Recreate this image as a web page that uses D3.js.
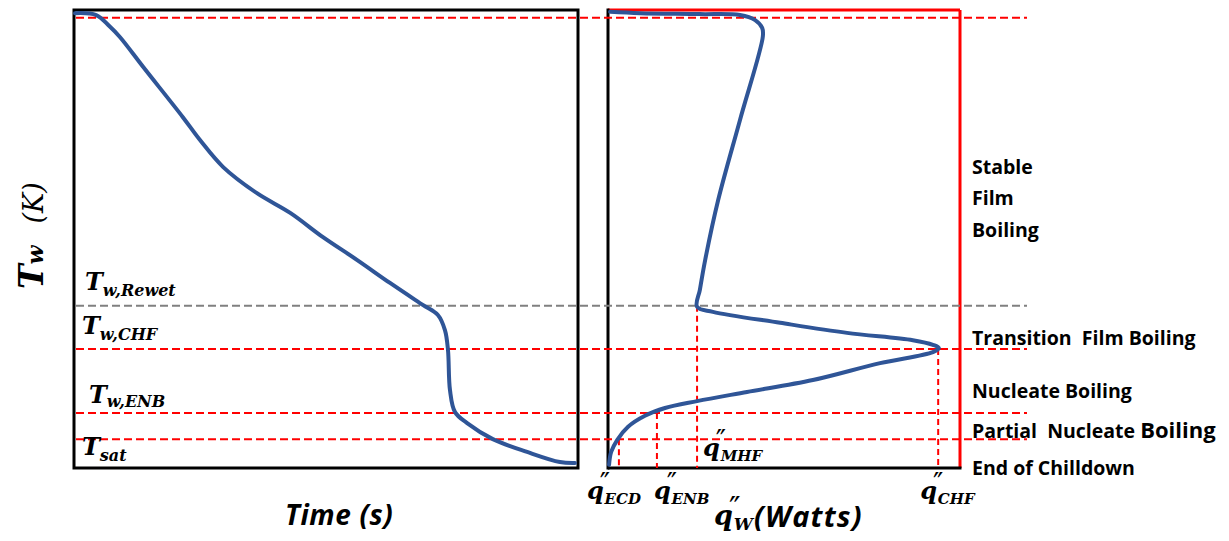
<!DOCTYPE html>
<html><head><meta charset="utf-8">
<script src="https://cdn.jsdelivr.net/npm/d3@7"></script>
<style>body{margin:0;background:#fff}svg{display:block}</style>
</head><body><svg id="c" width="1229" height="541"></svg>
<script>
// ---- data (normalized units) ----
// wall temperature vs time: [time, Tw]
const timeValues = [0.2,4.4,7.0,9.1,13.7,21.6,25.0,29.6,36.3,42.9,49.4,56.2,62.7,69.2,72.2,73.6,74.2,74.6,75.6,78.0,83.1,89.9,96.4,99.4];
const tempVsTime = [99.3,98.9,96.5,94.1,87.6,76.6,71.6,65.7,60.0,55.7,50.4,45.4,40.4,35.6,33.4,30.1,25.8,17.0,12.2,9.8,6.3,3.5,1.3,1.1];
// boiling curve: [heat flux, Tw]
const fluxValues = [0.6,9.1,26.1,37.5,41.8,43.8,44.0,37.5,31.3,27.6,26.1,25.3,29.8,48.9,67.9,86.6,92.3,94.0,92.3,77.3,58.2,39.5,25.3,16.2,10.5,5.7,2.6,0.9,0.3];
const tempVsFlux = [99.6,99.3,99.1,98.9,97.8,96.1,94.3,76.0,58.5,45.4,38.9,35.2,34.1,31.7,29.5,27.9,26.9,26.2,25.3,22.9,19.2,16.6,14.6,13.1,11.4,9.0,6.1,3.5,0.7];
// characteristic temperatures
const levelNames = ["top","Rewet","CHF","ENB","sat"];
const levelValues = [98.3, 35.4, 26.0, 12.0, 6.3];
const levelColors = ["#ff0000","#808080","#ff0000","#ff0000","#ff0000"];
// characteristic heat fluxes
const fluxMarkNames = ["ECD","ENB","MHF","CHF"];
const fluxMarkValues = [3.1, 13.9, 25.3, 93.8];
const fluxMarkTop = [6.3, 12.0, 35.4, 26.0];
// regime labels
const regimeTexts = ["Stable","Film","Boiling","Transition\u00a0\u00a0Film Boiling","Nucleate Boiling","Partial\u00a0\u00a0Nucleate ","End of Chilldown"];
const regimeLevels = [64.3, 57.4, 50.4, 26.9, 15.3, 6.5, -1.5];

// ---- layout ----
const svg = d3.select("#c");
const yT = d3.scaleLinear().domain([0,100]).range([468,10]);
const xTime = d3.scaleLinear().domain([0,100]).range([74,578]);
const xQ = d3.scaleLinear().domain([0,100]).range([608,960]);
const blue = "#2f5597";
const serif = "'DejaVu Serif', serif";
const sans = "'Open Sans', sans-serif";

// frames
svg.append("rect").attr("x",xTime(0)).attr("y",yT(100)).attr("width",xTime(100)-xTime(0)).attr("height",yT(0)-yT(100))
  .attr("fill","none").attr("stroke","#000").attr("stroke-width",3);
svg.append("line").attr("x1",xQ(0)).attr("x2",xQ(100)).attr("y1",yT(100)).attr("y2",yT(100)).attr("stroke","#ff0000").attr("stroke-width",3);
svg.append("line").attr("x1",xQ(100)).attr("x2",xQ(100)).attr("y1",yT(100)).attr("y2",yT(0)).attr("stroke","#ff0000").attr("stroke-width",3);
svg.append("line").attr("x1",xQ(0)).attr("x2",xQ(0)).attr("y1",yT(100)-1.5).attr("y2",yT(0)+1.5).attr("stroke","#000").attr("stroke-width",3);
svg.append("line").attr("x1",xQ(0)).attr("x2",xQ(100)+1.5).attr("y1",yT(0)).attr("y2",yT(0)).attr("stroke","#000").attr("stroke-width",3);

// horizontal dashed level lines
svg.selectAll("line.level").data(levelValues).join("line").attr("class","level")
  .attr("x1",xTime(0)+2).attr("x2",1027)
  .attr("y1",d=>yT(d)).attr("y2",d=>yT(d))
  .attr("stroke",(d,i)=>levelColors[i]).attr("stroke-width",2).attr("stroke-dasharray","8,4");

// vertical dashed flux lines
svg.selectAll("line.flux").data(fluxMarkValues).join("line").attr("class","flux")
  .attr("x1",d=>xQ(d)).attr("x2",d=>xQ(d))
  .attr("y1",(d,i)=>yT(fluxMarkTop[i])).attr("y2",yT(0))
  .attr("stroke","#ff0000").attr("stroke-width",2).attr("stroke-dasharray","6,4");

// curves
const leftData = timeValues.map((t,i)=>[t,tempVsTime[i]]);
const rightData = fluxValues.map((q,i)=>[q,tempVsFlux[i]]);
svg.append("path").datum(leftData)
  .attr("d",d3.line().x(d=>xTime(d[0])).y(d=>yT(d[1])).curve(d3.curveCatmullRom.alpha(0.5)))
  .attr("fill","none").attr("stroke",blue).attr("stroke-width",4).attr("stroke-linecap","round");
svg.append("path").datum(rightData)
  .attr("d",d3.line().x(d=>xQ(d[0])).y(d=>yT(d[1])).curve(d3.curveCatmullRom.alpha(0.5)))
  .attr("fill","none").attr("stroke",blue).attr("stroke-width",4).attr("stroke-linecap","round");

// temperature labels in the left panel
function tLabel(x, y, sub, subDy){
  const t = svg.append("text").attr("x",x).attr("y",y).attr("font-family",serif).attr("font-style","italic").attr("font-weight","bold").attr("fill","#000");
  t.append("tspan").attr("font-size",24).text("T");
  t.append("tspan").attr("font-size",16).attr("dy",subDy).text(sub);
}
tLabel(85, yT(levelValues[1])-16, "w,Rewet", 6);
tLabel(82, yT(levelValues[2])-15, "w,CHF", 6);
tLabel(89, yT(levelValues[3])-10, "w,ENB", 4);
tLabel(82, yT(levelValues[4])+16, "sat", 6);

// flux labels: q with double prime and subscript, one text element
function qLabel(x, y, sub, qSize, subSize){
  const t = svg.append("text").attr("x",x).attr("y",y).attr("font-family",serif).attr("font-style","italic").attr("font-weight","bold").attr("fill","#000");
  t.append("tspan").attr("font-size",qSize).text("q");
  const pSize = qSize*1.15;
  t.append("tspan").attr("font-size",pSize).attr("font-family","'DejaVu Sans', sans-serif").attr("font-style","normal").attr("font-weight","normal")
    .attr("dx",-4).attr("dy",-qSize*0.24).text("\u2033");
  t.append("tspan").attr("font-size",subSize).attr("dx",-pSize*0.38+5).attr("dy",qSize*0.24+subSize*0.3).text(sub);
}
qLabel(xQ(fluxMarkValues[0])-32, 499, "ECD", 24, 15);
qLabel(xQ(fluxMarkValues[1])-3, 499, "ENB", 24, 15);
qLabel(xQ(fluxMarkValues[2])+6, 456, "MHF", 24, 15);
qLabel(xQ(fluxMarkValues[3])-18, 499, "CHF", 24, 15);

// x-axis title of heat flux panel
qLabel(714, 525, "W", 27, 17);
svg.append("text").attr("x",754).attr("y",527).attr("font-family",sans).attr("font-style","italic").attr("font-weight","bold")
  .attr("font-size",29).attr("letter-spacing",1.2).text("(Watts)");

// time axis title
svg.append("text").attr("x",285).attr("y",525).attr("font-family",sans).attr("font-style","italic").attr("font-weight","bold")
  .attr("font-size",28).attr("letter-spacing",0.6).text("Time (s)");

// y axis title
const yl = svg.append("text").attr("transform","translate(43,289) rotate(-90)").attr("font-family",serif).attr("fill","#000");
yl.append("tspan").attr("font-size",33).attr("font-style","italic").attr("font-weight","bold").text("T");
yl.append("tspan").attr("font-size",22).attr("font-style","italic").attr("font-weight","bold").text("w");
yl.append("tspan").attr("font-size",27).attr("font-style","italic").attr("dx",22).text("(K)");

// regime labels
regimeTexts.forEach((s,i)=>{
  const t = svg.append("text").attr("x",972).attr("y",yT(regimeLevels[i])).attr("font-family",sans).attr("font-weight","bold")
    .attr("font-size",19.5).attr("fill","#000").text(s);
  if(i===5) t.append("tspan").attr("font-size",22).text("Boiling");
});
</script></body></html>
